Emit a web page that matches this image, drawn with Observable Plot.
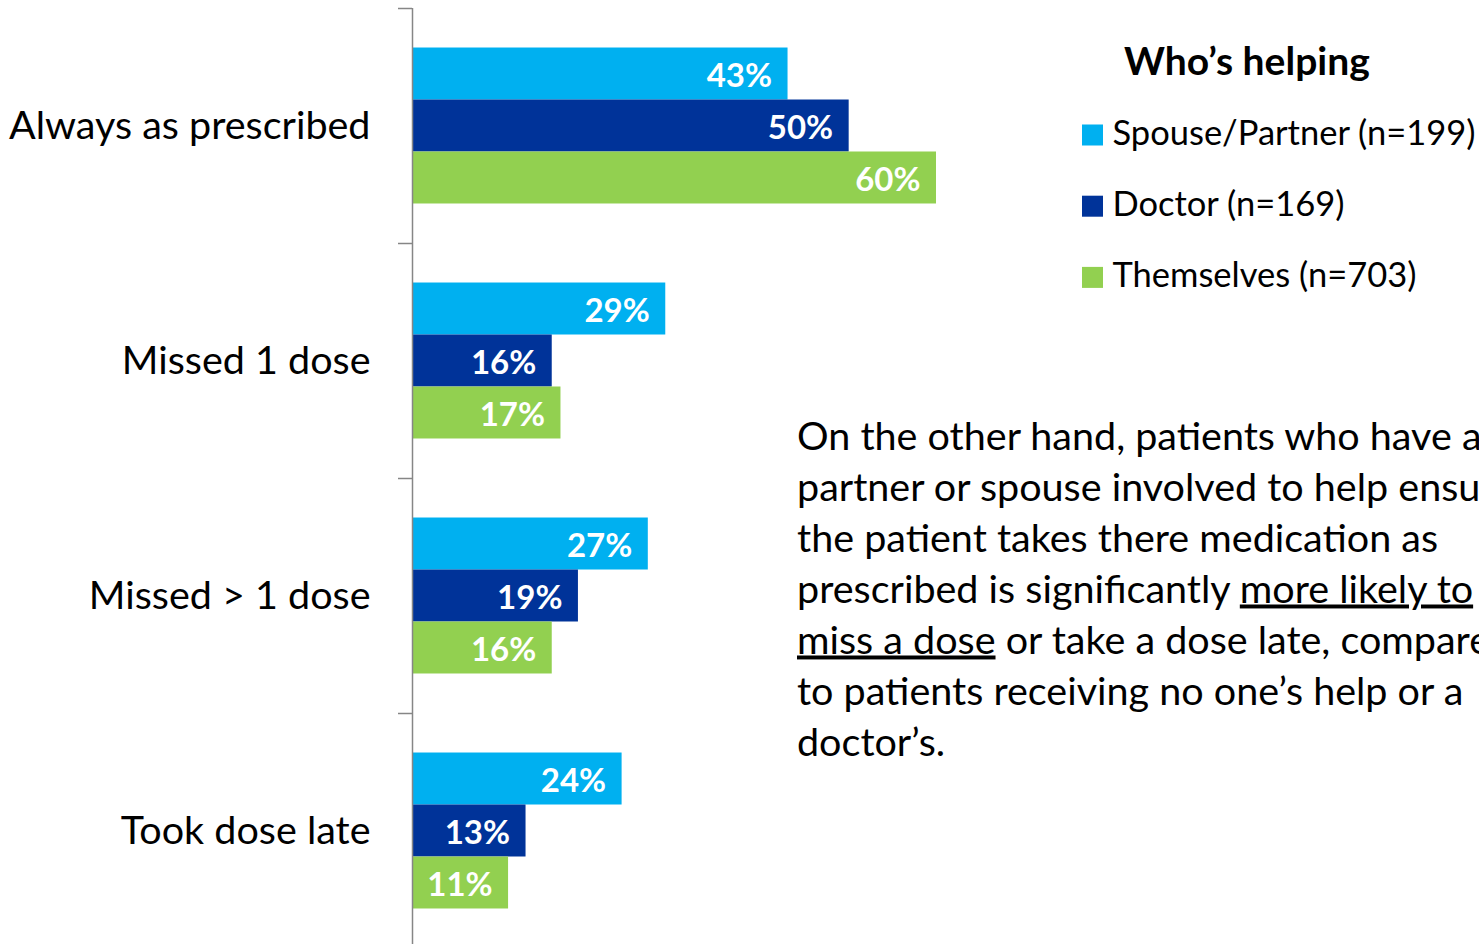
<!DOCTYPE html>
<html>
<head>
<meta charset="utf-8">
<script src="https://cdn.jsdelivr.net/npm/d3@7"></script>
<script src="https://cdn.jsdelivr.net/npm/@observablehq/plot@0.6"></script>
<style>
  html, body { margin: 0; padding: 0; background: #fff; overflow: hidden; }
  #chart svg { display: block; }
</style>
</head>
<body>
<div id="chart"></div>
<script>
// ---- Data ----
const categories = ["Always as prescribed", "Missed 1 dose", "Missed > 1 dose", "Took dose late"];
const series = ["Spouse/Partner (n=199)", "Doctor (n=169)", "Themselves (n=703)"];
const spouseValues = [43, 29, 27, 24];
const doctorValues = [50, 16, 19, 13];
const themselvesValues = [60, 17, 16, 11];
const seriesColors = ["#00B0F0", "#003399", "#92D050"];
const legendTitle = "Who’s helping";
// underscores mark underlined segments
const noteLines = [
  "On the other hand, patients who have a",
  "partner or spouse involved to help ensure",
  "the patient takes there medication as",
  "prescribed is significantly _more likely to_",
  "_miss a dose_ or take a dose late, compared",
  "to patients receiving no one’s help or a",
  "doctor’s."
];

const seriesValues = [spouseValues, doctorValues, themselvesValues];
const table = categories.flatMap((c, i) =>
  seriesValues.map((vals, j) => ({category: c, series: series[j], value: vals[i]}))
);

const W = 1479, H = 944;
const mTop = 8, mBottom = -4;
const band = (H - mTop - mBottom) / categories.length;
const axisGray = "#868686";

const chart = Plot.plot({
  width: W,
  height: H,
  marginLeft: 412,
  marginRight: 543,
  marginTop: mTop,
  marginBottom: mBottom,
  style: {fontFamily: "Lato, sans-serif", fontSize: "40px", color: "#000", background: "#fff", overflow: "hidden"},
  x: {domain: [0, d3.max(themselvesValues)], axis: null},
  y: {domain: series, axis: null, paddingInner: 0, paddingOuter: 0.76, round: false},
  fy: {domain: categories, padding: 0, round: false},
  color: {domain: series, range: seriesColors},
  marks: [
    Plot.barX(table, {x: "value", y: "series", fy: "category", fill: "series"}),
    Plot.text(table, {
      x: "value", y: "series", fy: "category",
      text: d => d.value + "%",
      textAnchor: "end", dx: -16, dy: 2,
      fill: "white", fontWeight: "bold", fontSize: 33
    }),
    Plot.ruleX([0], {stroke: axisGray, strokeWidth: 1.5}),
    Plot.axisFy({anchor: "left", tickSize: 0, tickPadding: 42, fontSize: 39.5, fill: "#000", label: null}),
    Plot.axisFy({anchor: "left", text: null, tickSize: 14, stroke: axisGray, strokeWidth: 1.5, dy: -band / 2, label: null})
  ]
});

document.getElementById("chart").appendChild(chart);

// ---- Legend (right) ----
const svg = d3.select(chart);
const lg = svg.append("g").attr("font-family", "Lato, sans-serif").attr("text-anchor", "start");
lg.append("text")
  .attr("x", 1124).attr("y", 75)
  .attr("font-size", 39).attr("font-weight", "bold").attr("fill", "#000")
  .text(legendTitle);
series.forEach((s, i) => {
  const yb = 144.5 + i * 71.2;
  lg.append("rect")
    .attr("x", 1082).attr("y", yb - 20).attr("width", 21).attr("height", 21)
    .attr("fill", seriesColors[i]);
  lg.append("text")
    .attr("x", 1112.5).attr("y", yb)
    .attr("font-size", 34.5).attr("fill", "#000")
    .text(s);
});

// ---- Note paragraph ----
const ng = svg.append("g").attr("font-family", "Lato, sans-serif").attr("font-size", 39.5)
  .attr("fill", "#000").attr("text-anchor", "start");
noteLines.forEach((line, i) => {
  const t = ng.append("text").attr("x", 797).attr("y", 449.5 + i * 51).style("white-space", "pre");
  line.split("_").forEach((seg, k) => {
    if (!seg) return;
    const ts = t.append("tspan").text(seg);
    if (k % 2 === 1) ts.style("text-decoration", "underline");
  });
});
</script>
</body>
</html>
